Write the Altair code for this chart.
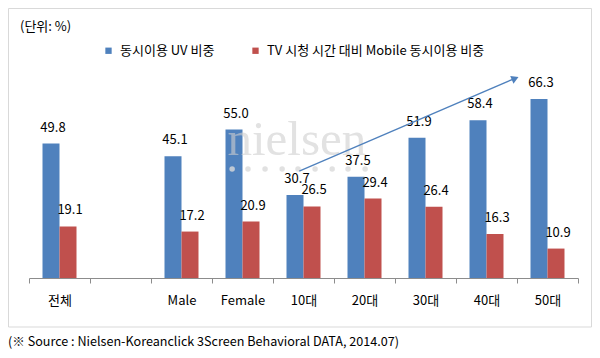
import altair as alt
import pandas as pd

# ---- data ----
categories = ["전체", " ", "Male", "Female", "10대", "20대", "30대", "40대", "50대"]
series = ["동시이용 UV 비중", "TV 시청 시간 대비 Mobile 동시이용 비중"]
uv_share = [49.8, None, 45.1, 55.0, 30.7, 37.5, 51.9, 58.4, 66.3]
mobile_share = [19.1, None, 17.2, 20.9, 26.5, 29.4, 26.4, 16.3, 10.9]
colors = ["#4F81BD", "#C0504D"]

unit_text = "(단위: %)"
source_text = "(※ Source : Nielsen-Koreanclick 3Screen Behavioral DATA, 2014.07)"

# trend arrow (in category-index units / percent units)
arrow_x = [4.43, 7.93]
arrow_y = [39.6, 73.6]
head_x = [7.97]
head_y = [73.9]
# watermark
mark_word = ["nielsen"]
mark_x = [4.39]
mark_y = [45.6]
dot_x = [3.33, 3.59, 3.87, 4.15, 4.41, 4.69, 4.97, 5.23, 5.51]
dot_y = [40.4] * 9

FONT = "Noto Sans CJK KR"

rows = []
for c, a, b in zip(categories, uv_share, mobile_share):
    if a is not None:
        rows.append({"category": c, "series": series[0], "value": a})
    if b is not None:
        rows.append({"category": c, "series": series[1], "value": b})
df = pd.DataFrame(rows)

x_scale = alt.Scale(domain=categories, paddingInner=0, paddingOuter=0)
x_enc = alt.X(
    "category:N",
    scale=x_scale,
    axis=alt.Axis(
        title=None, labelAngle=0, tickBand="extent", tickSize=5,
        domainColor="#8c8c8c", tickColor="#8c8c8c", labelColor="#000000",
        labelFontSize=13, labelFont=FONT, labelPadding=11, grid=False,
    ),
)
x_enc_noaxis = alt.X("category:N", scale=x_scale, axis=None)
xoff_enc = alt.XOffset(
    "series:N",
    scale=alt.Scale(domain=series, paddingInner=0, paddingOuter=0.794),
)
y_enc = alt.Y("value:Q", scale=alt.Scale(domain=[0, 80]), axis=None)
color_enc = alt.Color(
    "series:N",
    scale=alt.Scale(domain=series, range=colors),
    legend=alt.Legend(
        orient="none", legendX=73, legendY=-18, direction="horizontal",
        title=None, symbolType="square", symbolSize=40, symbolStrokeWidth=0,
        labelFontSize=13, labelFont=FONT, labelColor="#000000",
        labelOffset=5, columnPadding=34, labelLimit=400,
    ),
)

bars = alt.Chart(df).mark_bar().encode(
    x=x_enc, xOffset=xoff_enc, y=y_enc, color=color_enc
)
labels = alt.Chart(df).mark_text(
    baseline="alphabetic", dy=-12, dx=2, fontSize=13, font=FONT, color="#000000"
).encode(
    x=x_enc_noaxis, xOffset=xoff_enc, y=y_enc, text=alt.Text("value:Q", format=".1f")
)

xq = alt.X("px:Q", scale=alt.Scale(domain=[0, 9]), axis=None)
yq = alt.Y("py:Q", scale=alt.Scale(domain=[0, 80]), axis=None)

wm = alt.Chart(pd.DataFrame({"px": mark_x, "py": mark_y, "t": mark_word})).mark_text(
    font="Liberation Serif", fontSize=49, color="#cfcfcf", opacity=0.6,
    baseline="alphabetic", align="center",
).encode(x=xq, y=yq, text="t:N")
dots = alt.Chart(pd.DataFrame({"px": dot_x, "py": dot_y})).mark_circle(
    size=30, color="#dadada", opacity=0.8
).encode(x=xq, y=yq)
arrow = alt.Chart(pd.DataFrame({"px": arrow_x, "py": arrow_y})).mark_line(
    color="#4F81BD", strokeWidth=1.3
).encode(x=xq, y=yq)
head = alt.Chart(pd.DataFrame({"px": head_x, "py": head_y})).mark_point(
    shape="triangle-right", size=70, filled=True, color="#4F81BD", opacity=1, angle=337
).encode(x=xq, y=yq)

frame = alt.Chart(alt.Data(values=[{"k": 1}])).mark_rect(
    fill="transparent", stroke="#d9d9d9", strokeWidth=1
).encode(
    x=alt.value(-20.5), x2=alt.value(562.5), y=alt.value(-53.5), y2=alt.value(265)
)
unit = alt.Chart(alt.Data(values=[{"t": unit_text}])).mark_text(
    align="left", baseline="middle", fontSize=13, font=FONT, color="#000000"
).encode(x=alt.value(-9), y=alt.value(-35), text="t:N")
source = alt.Chart(alt.Data(values=[{"t": source_text}])).mark_text(
    align="left", baseline="middle", fontSize=12.6, font=FONT, color="#000000"
).encode(x=alt.value(-21), y=alt.value(280), text="t:N")

chart = alt.layer(
    frame, bars, labels, wm, dots, arrow, head, unit, source
).resolve_scale(x="independent").properties(
    width=549, height=216,
    padding={"left": 21, "top": 54, "right": 14, "bottom": 72},
    autosize=alt.AutoSizeParams(type="none"),
).configure_view(stroke=None)

chart.save("out.html", embed_options={"renderer": "svg", "actions": False})
